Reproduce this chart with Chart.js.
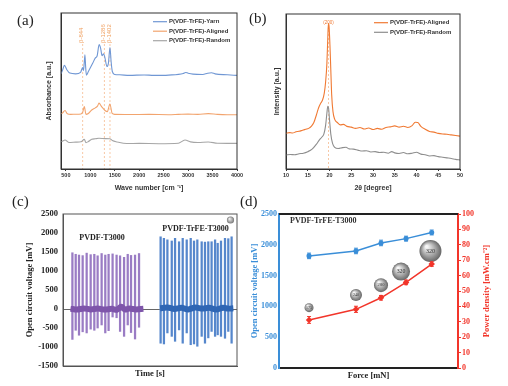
<!DOCTYPE html>
<html>
<head>
<meta charset="utf-8">
<script src="https://cdn.jsdelivr.net/npm/chart.js@4.4.1/dist/chart.umd.min.js"></script>
<style>
body { margin: 0; background: #fff; }
#fig { position: relative; width: 508px; height: 386px; overflow: hidden; background: #fff; }
canvas { position: absolute; }
.tag { position: absolute; font-family: "Liberation Serif", "Times New Roman", serif; font-size: 15px; line-height: 15px; color: #222; }
</style>
</head>
<body>
<div id="fig">
  <canvas id="chartA" width="254" height="193" style="left:0;top:0;width:254px;height:193px"></canvas>
  <canvas id="chartB" width="254" height="193" style="left:254px;top:0;width:254px;height:193px"></canvas>
  <canvas id="chartC" width="254" height="193" style="left:0;top:193px;width:254px;height:193px"></canvas>
  <canvas id="chartD" width="268" height="193" style="left:240px;top:193px;width:268px;height:193px"></canvas>
  <div class="tag" style="left:17px;top:13px">(a)</div>
  <div class="tag" style="left:249px;top:11px">(b)</div>
  <div class="tag" style="left:12px;top:194px">(c)</div>
  <div class="tag" style="left:240px;top:194px">(d)</div>
</div>
<script>
const SANS = '"Liberation Sans", Arial, sans-serif';
const SERIF = '"Liberation Serif", "Times New Roman", serif';

// ---- (a) FTIR ----
const ftirTicks = [500, 1000, 1500, 2000, 2500, 3000, 3500, 4000];
const ftirPeaks = [844, 1286, 1402];
const ftirPeakLabels = ['β-844', 'β-1286', 'β-1402'];
const yarnWave = [400, 430, 470, 520, 580, 700, 800, 842, 860, 875, 890, 905, 920, 960, 1050, 1100, 1140, 1180, 1210, 1240, 1270, 1300, 1340, 1370, 1402, 1425, 1450, 1500, 1600, 1800, 2100, 2300, 2600, 2900, 2950, 3000, 3100, 3300, 3400, 3480, 3550, 3800, 4000];
const yarnAbs = [61.0, 63.2, 66.4, 63.6, 61.5, 61.0, 61.9, 65.1, 63.2, 68.0, 73.2, 65.0, 60.2, 62.5, 67.9, 71.1, 72.6, 79.7, 77.5, 72.6, 73.9, 71.1, 65.7, 67.9, 77.9, 68.9, 62.5, 60.6, 60.4, 60.0, 60.3, 60.0, 60.2, 61.2, 61.9, 61.4, 60.8, 60.6, 61.4, 61.7, 61.0, 60.4, 60.0];
const alignedWave = [400, 427, 482, 530, 600, 700, 809, 845, 877, 911, 960, 1028, 1100, 1150, 1177, 1231, 1300, 1348, 1400, 1447, 1500, 1800, 2200, 2600, 2800, 3000, 3200, 3413, 3600, 3800, 4000];
const alignedAbs = [35.5, 35.8, 37.5, 35.4, 35.0, 35.1, 35.3, 36.5, 40.0, 35.0, 35.6, 37.8, 39.2, 40.5, 42.2, 40.0, 37.5, 36.8, 41.7, 35.6, 35.0, 34.9, 35.0, 34.8, 35.0, 35.2, 35.0, 35.5, 35.0, 34.8, 34.8];
const randomWave = [400, 427, 482, 560, 700, 809, 877, 911, 960, 1028, 1100, 1177, 1300, 1400, 1450, 1550, 1743, 2000, 2400, 2800, 2936, 3050, 3200, 3413, 3600, 3800, 4000];
const randomAbs = [17.5, 17.8, 18.6, 17.0, 17.2, 17.5, 19.0, 16.9, 17.6, 19.0, 19.4, 19.7, 19.5, 19.4, 18.2, 17.3, 16.3, 16.4, 16.2, 16.5, 18.6, 17.4, 17.0, 17.3, 16.5, 16.4, 16.4];

// ---- (b) XRD ----
const xrdPeak = 19.75;
const xrdPeakLabel = '(200)';
const alignedTheta = [10, 10.8, 11.5, 12.3, 13, 13.8, 14.5, 15.2, 15.8, 16.4, 17, 17.5, 18, 18.4, 18.8, 19.1, 19.4, 19.6, 19.75, 19.9, 20.1, 20.3, 20.5, 20.8, 21.2, 21.8, 22.5, 23.2, 24, 25, 26, 27, 28, 29, 30, 31, 32, 33, 34, 35, 36, 37, 38, 39, 39.7, 40.3, 41, 42, 43, 44, 45, 46, 47, 48, 49, 50];
const alignedInt = [23.0, 23.5, 23.2, 24.0, 24.3, 25.0, 25.6, 26.2, 27.5, 30.0, 35.0, 39.5, 42.5, 44.5, 49.0, 56.0, 68.0, 84.0, 94.0, 92.0, 80.0, 64.0, 48.0, 37.0, 32.0, 30.0, 28.5, 28.8, 27.5, 27.0, 26.2, 26.8, 25.8, 26.5, 25.5, 26.2, 25.6, 26.8, 27.2, 27.8, 27.0, 27.6, 26.8, 28.0, 30.2, 30.0, 27.5, 25.6, 24.2, 23.8, 23.0, 22.6, 22.4, 22.0, 21.6, 21.2];
const randomTheta = [10, 11, 12, 13, 14, 15, 16, 17, 17.6, 18.2, 18.7, 19.1, 19.4, 19.6, 19.8, 20.0, 20.3, 20.7, 21.2, 22, 23, 23.8, 24.5, 25.5, 26.5, 27.5, 28.5, 29.5, 30.5, 31.5, 32.5, 33.5, 34.3, 35, 36, 37, 38, 39, 40, 41, 42, 43, 44, 45, 46, 47, 48, 49, 50];
const randomInt = [9.0, 9.4, 9.2, 9.8, 10.2, 11.2, 12.8, 16.0, 18.5, 20.5, 22.5, 28.0, 36.0, 40.5, 39.0, 32.0, 22.5, 16.5, 14.0, 13.2, 13.8, 14.0, 13.0, 12.8, 12.2, 11.6, 11.8, 11.0, 11.2, 10.6, 10.8, 10.2, 11.2, 10.4, 10.0, 10.6, 9.8, 10.2, 10.8, 9.6, 9.2, 8.4, 8.6, 8.0, 7.6, 7.2, 6.8, 6.2, 5.8];

// ---- (c) open circuit voltage ----
const pvdfTime = [5.4, 7.3, 9.2, 11.3, 13.6, 15.9, 18.0, 19.9, 22.2, 24.3, 26.2, 28.5, 30.8, 32.8, 35.1, 37.2, 39.1, 41.4, 43.7];
const pvdfHigh = [1480, 1440, 1420, 1405, 1470, 1430, 1440, 1400, 1460, 1420, 1440, 1450, 1420, 1400, 1360, 1440, 1410, 1420, 1460];
const pvdfLow = [-800, -560, -690, -600, -630, -530, -560, -500, -420, -630, -570, -210, -230, -590, -720, -420, -620, -790, -480];
const pvdfBandTime = [4.3, 8, 12, 16, 20, 24, 28, 31, 33.5, 35.5, 38, 42, 46.2];
const pvdfBand = [10, -15, 15, -10, 10, -15, 5, -20, 60, -10, 10, -10, 5];
const trfeTime = [56.1, 58.0, 60.0, 62.5, 64.4, 66.7, 68.8, 71.1, 73.4, 75.3, 77.2, 79.7, 81.6, 83.5, 85.4, 87.4, 88.9, 90.8, 93.1, 95.0, 96.9];
const trfeHigh = [1900, 1860, 1820, 1790, 1860, 1770, 1860, 1820, 1860, 1790, 1820, 1770, 1760, 1770, 1770, 1820, 1730, 1790, 1860, 1850, 1900];
const trfeLow = [-900, -920, -630, -720, -850, -550, -900, -630, -940, -920, -980, -720, -900, -760, -590, -720, -680, -720, -770, -590, -900];
const trfeBandTime = [55.8, 60, 64, 68, 72, 76, 80, 84, 88, 92, 95, 97.9];
const trfeBand = [20, 40, 0, 30, -10, 40, 10, 30, -10, 30, 10, 20];

// ---- (d) force dependence ----
const forceMN = [165, 240, 280, 320, 361];
const voltageMV = [1820, 1900, 2030, 2100, 2200];
const voltageErr = [45, 45, 45, 40, 40];
const powerDensity = [31.2, 38.1, 45.6, 55.6, 67.5];
const powerErr = [2.2, 2.0, 1.5, 1.5, 1.5];
const bubbleForce = [165, 240, 280, 312, 359];
const bubbleLevel = [980, 1185, 1345, 1565, 1900];
const bubbleSize = [4.5, 6, 7, 9, 11];
const bubbleLabels = ['175', '240', '280', '320', '320'];

const pts = (xs, ys) => xs.map((x, i) => ({x: x, y: ys[i]}));

const frame = (color, width) => ({
  id: 'frame',
  afterDatasetsDraw(chart) {
    const {ctx, chartArea: a} = chart;
    ctx.save();
    ctx.strokeStyle = color;
    ctx.lineWidth = width;
    ctx.strokeRect(a.left, a.top, a.right - a.left, a.bottom - a.top);
    ctx.restore();
  }
});

const insetLegend = (dx, y0, dy) => ({
  id: 'insetLegend',
  afterDraw(chart) {
    const {ctx, chartArea: a} = chart;
    ctx.save();
    ctx.font = 'bold 6px ' + SANS;
    ctx.textBaseline = 'middle';
    ctx.fillStyle = '#333';
    chart.data.datasets.forEach((ds, i) => {
      const x = a.right - dx, y = a.top + y0 + i * dy;
      ctx.strokeStyle = ds.borderColor;
      ctx.lineWidth = 1.2;
      ctx.beginPath(); ctx.moveTo(x, y); ctx.lineTo(x + 14, y); ctx.stroke();
      ctx.fillText(ds.label, x + 16, y);
    });
    ctx.restore();
  }
});

const bubbleFill = ctx => {
  if (ctx.type !== 'data') return '#999';
  const c = ctx.chart, p = ctx.raw;
  const xs = c.scales.x, ys = c.scales[ctx.dataset.yAxisID || 'y'];
  if (!xs || !ys) return '#999';
  const x = xs.getPixelForValue(p.x), y = ys.getPixelForValue(p.y), r = p.r;
  if (![x, y, r].every(Number.isFinite)) return '#999';
  const g = c.ctx.createRadialGradient(x - r * 0.35, y - r * 0.4, r * 0.1, x, y, r);
  g.addColorStop(0, '#f6f6f6');
  g.addColorStop(0.55, '#a9a9a9');
  g.addColorStop(1, '#666');
  return g;
};

const base = {
  responsive: false,
  animation: false,
  devicePixelRatio: 1,
  plugins: {legend: {display: false}, tooltip: {enabled: false}}
};

// ===== (a) =====
new Chart(document.getElementById('chartA'), {
  type: 'line',
  data: {
    datasets: [
      {label: 'P(VDF-TrFE)-Yarn', data: pts(yarnWave, yarnAbs), borderColor: '#7097d4'},
      {label: 'P(VDF-TrFE)-Aligned', data: pts(alignedWave, alignedAbs), borderColor: '#f2a46e'},
      {label: 'P(VDF-TrFE)-Random', data: pts(randomWave, randomAbs), borderColor: '#a6a6a6'}
    ]
  },
  options: {
    ...base,
    layout: {padding: {left: 45, right: 17, top: 13, bottom: 0}},
    elements: {point: {radius: 0}, line: {borderWidth: 1.1, cubicInterpolationMode: 'monotone'}},
    scales: {
      x: {
        type: 'linear', min: 400, max: 4000,
        afterBuildTicks: s => { s.ticks = ftirTicks.map(v => ({value: v})); },
        afterFit: s => { s.height = 24; },
        ticks: {font: {family: SANS, size: 5.5, weight: 'bold'}, color: '#333', padding: 1, maxRotation: 0, callback: v => String(v)},
        grid: {drawOnChartArea: false, drawTicks: true, tickLength: 2, color: '#333'},
        border: {color: '#333'},
        title: {display: true, text: 'Wave number [cm ⁻¹]', font: {family: SANS, size: 7, weight: 'bold'}, color: '#333', padding: {top: 0, bottom: 1}}
      },
      y: {
        min: 0, max: 100,
        afterFit: s => { s.width = 16; },
        ticks: {display: false},
        grid: {display: false, drawTicks: false},
        border: {color: '#333'},
        title: {display: true, text: 'Absorbance [a.u.]', font: {family: SANS, size: 7, weight: 'bold'}, color: '#333', padding: {top: 0, bottom: 0}}
      }
    }
  },
  plugins: [frame('#333', 1), insetLegend(84, 8.7, 9.5), {
    id: 'peakLines',
    beforeDatasetsDraw(chart) {
      const {ctx, chartArea: a, scales: {x}} = chart;
      ctx.save();
      ctx.strokeStyle = '#f6bb90';
      ctx.lineWidth = 0.8;
      ctx.setLineDash([2, 2]);
      ftirPeaks.forEach(p => {
        const px = x.getPixelForValue(p);
        ctx.beginPath(); ctx.moveTo(px, a.top + 31); ctx.lineTo(px, a.bottom); ctx.stroke();
      });
      ctx.setLineDash([]);
      ctx.fillStyle = '#f0a060';
      ctx.font = '6px ' + SANS;
      ctx.textBaseline = 'middle';
      ctx.textAlign = 'left';
      ftirPeaks.forEach((p, i) => {
        const px = x.getPixelForValue(p);
        ctx.save();
        ctx.translate(px - 1, a.top + 30);
        ctx.rotate(-Math.PI / 2);
        ctx.fillText(ftirPeakLabels[i], 0, 0);
        ctx.restore();
      });
      ctx.restore();
    }
  }]
});

// ===== (b) =====
new Chart(document.getElementById('chartB'), {
  type: 'line',
  data: {
    datasets: [
      {label: 'P(VDF-TrFE)-Aligned', data: pts(alignedTheta, alignedInt), borderColor: '#f07a34'},
      {label: 'P(VDF-TrFE)-Random', data: pts(randomTheta, randomInt), borderColor: '#8e8e8e'}
    ]
  },
  options: {
    ...base,
    layout: {padding: {left: 19, right: 48, top: 14, bottom: 0}},
    elements: {point: {radius: 0}, line: {borderWidth: 1.1, cubicInterpolationMode: 'monotone'}},
    scales: {
      x: {
        type: 'linear', min: 10, max: 50,
        afterFit: s => { s.height = 24; },
        ticks: {stepSize: 5, font: {family: SANS, size: 5.5, weight: 'bold'}, color: '#333', padding: 1, maxRotation: 0, callback: v => String(v)},
        grid: {drawOnChartArea: false, drawTicks: true, tickLength: 2, color: '#333'},
        border: {color: '#333'},
        title: {display: true, text: '2θ [degree]', font: {family: SANS, size: 7, weight: 'bold'}, color: '#333', padding: {top: 0, bottom: 1}}
      },
      y: {
        min: 0, max: 100,
        afterFit: s => { s.width = 13; },
        ticks: {display: false},
        grid: {display: false, drawTicks: false},
        border: {color: '#333'},
        title: {display: true, text: 'Intensity [a.u.]', font: {family: SANS, size: 7, weight: 'bold'}, color: '#333', padding: {top: 0, bottom: 0}}
      }
    }
  },
  plugins: [frame('#333', 1), insetLegend(86, 8.7, 9.6), {
    id: 'peakLine',
    beforeDatasetsDraw(chart) {
      const {ctx, chartArea: a, scales: {x}} = chart;
      const px = x.getPixelForValue(xrdPeak);
      ctx.save();
      ctx.strokeStyle = '#f6bb90';
      ctx.lineWidth = 0.8;
      ctx.setLineDash([2, 2]);
      ctx.beginPath(); ctx.moveTo(px, a.top + 12); ctx.lineTo(px, a.bottom); ctx.stroke();
      ctx.setLineDash([]);
      ctx.fillStyle = '#f07a34';
      ctx.font = '4.5px ' + SANS;
      ctx.textAlign = 'center';
      ctx.textBaseline = 'middle';
      ctx.fillText(xrdPeakLabel, px, a.top + 8.5);
      ctx.restore();
    }
  }]
});

// ===== (c) =====
new Chart(document.getElementById('chartC'), {
  type: 'bar',
  data: {
    datasets: [
      {type: 'line', data: pts(pvdfBandTime, pvdfBand), borderColor: '#7e55aa', borderWidth: 6, pointRadius: 0, tension: 0.3},
      {type: 'line', data: pts(trfeBandTime, trfeBand), borderColor: '#2f66b4', borderWidth: 6, pointRadius: 0, tension: 0.3},
      {data: pvdfTime.map((t, i) => ({x: t, y: [pvdfLow[i], pvdfHigh[i]]})), backgroundColor: '#9a7cc4', barThickness: 1.6, grouped: false},
      {data: trfeTime.map((t, i) => ({x: t, y: [trfeLow[i], trfeHigh[i]]})), backgroundColor: '#5687cc', barThickness: 1.6, grouped: false}
    ]
  },
  options: {
    ...base,
    layout: {padding: {left: 25, right: 17, top: 21, bottom: 0}},
    scales: {
      x: {
        type: 'linear', min: 0, max: 100, offset: false,
        afterFit: s => { s.height = 20; },
        ticks: {display: false},
        grid: {display: false, drawTicks: false},
        border: {color: '#555'},
        title: {display: true, text: 'Time [s]', font: {family: SERIF, size: 8.5, weight: 'bold'}, color: '#222', padding: {top: 0, bottom: 7}}
      },
      y: {
        min: -1500, max: 2500,
        afterFit: s => { s.width = 38; },
        ticks: {stepSize: 500, font: {family: SERIF, size: 8.5, weight: 'bold'}, color: '#222', padding: 5, callback: v => String(v)},
        grid: {drawTicks: false, color: c => (c.tick && c.tick.value === 0 ? '#666' : 'rgba(0,0,0,0)')},
        border: {color: '#555'},
        title: {display: true, text: 'Open circuit voltage [mV]', font: {family: SERIF, size: 8.5, weight: 'bold'}, color: '#222', padding: {top: 0, bottom: 0}}
      }
    }
  },
  plugins: [frame('#555', 1), {
    id: 'labelsC',
    afterDraw(chart) {
      const {ctx, chartArea: a} = chart;
      ctx.save();
      ctx.font = 'bold 8px ' + SERIF;
      ctx.fillStyle = '#222';
      ctx.textAlign = 'center';
      ctx.textBaseline = 'middle';
      ctx.fillText('PVDF-T3000', a.left + 39, a.top + 24);
      ctx.fillText('PVDF-TrFE-T3000', a.left + 132.5, a.top + 15);
      const bx = a.right - 6.5, by = a.top + 6, r = 3.6;
      const g = ctx.createRadialGradient(bx - 1, by - 1.2, 0.3, bx, by, r);
      g.addColorStop(0, '#eee'); g.addColorStop(1, '#777');
      ctx.fillStyle = g;
      ctx.beginPath(); ctx.arc(bx, by, r, 0, Math.PI * 2); ctx.fill();
      ctx.restore();
    }
  }]
});

// ===== (d) =====
new Chart(document.getElementById('chartD'), {
  type: 'line',
  data: {
    datasets: [
      {data: pts(forceMN, voltageMV), errors: voltageErr, yAxisID: 'y', borderColor: '#3a8ed8', backgroundColor: '#3a8ed8', borderWidth: 1.5, pointRadius: 1.8},
      {data: pts(forceMN, powerDensity), errors: powerErr, yAxisID: 'y2', borderColor: '#f2352a', backgroundColor: '#f2352a', borderWidth: 1.5, pointRadius: 2.2, pointStyle: 'rectRot'},
      {type: 'bubble', data: bubbleForce.map((f, i) => ({x: f, y: bubbleLevel[i], r: bubbleSize[i]})), yAxisID: 'y', backgroundColor: bubbleFill, borderWidth: 0}
    ]
  },
  options: {
    ...base,
    layout: {padding: {left: 10, right: 16, top: 21, bottom: 0}},
    scales: {
      x: {
        type: 'linear', min: 117, max: 403,
        afterFit: s => { s.height = 18; },
        ticks: {display: false},
        grid: {display: false, drawTicks: false},
        border: {color: '#222', width: 2},
        title: {display: true, text: 'Force [mN]', font: {family: SERIF, size: 8.5, weight: 'bold'}, color: '#222', padding: {top: 0, bottom: 5}}
      },
      y: {
        position: 'left', min: 0, max: 2500,
        afterFit: s => { s.width = 29; },
        ticks: {stepSize: 500, font: {family: SERIF, size: 8, weight: 'bold'}, color: '#3a8ed8', padding: 2, callback: v => String(v)},
        grid: {display: false, drawTicks: false},
        border: {color: '#3a8ed8', width: 2},
        title: {display: true, text: 'Open circuit voltage [mV]', font: {family: SERIF, size: 8.5, weight: 'bold'}, color: '#3a8ed8', padding: {top: 0, bottom: 0}}
      },
      y2: {
        position: 'right', min: 0, max: 100,
        afterFit: s => { s.width = 34; },
        ticks: {stepSize: 10, font: {family: SERIF, size: 8, weight: 'bold'}, color: '#f2352a', padding: 1, callback: v => String(v)},
        grid: {drawOnChartArea: false, drawTicks: true, tickLength: 3, color: '#f2352a'},
        border: {color: '#f2352a', width: 2}
      }
    }
  },
  plugins: [{
    id: 'extrasD',
    afterDatasetsDraw(chart) {
      const {ctx, chartArea: a} = chart;
      ctx.save();
      chart.data.datasets.forEach((ds, i) => {
        if (!ds.errors) return;
        const meta = chart.getDatasetMeta(i), sc = chart.scales[ds.yAxisID];
        ctx.strokeStyle = ds.borderColor;
        ctx.lineWidth = 1;
        meta.data.forEach((pt, j) => {
          const v = ds.data[j].y, e = ds.errors[j];
          const y1 = sc.getPixelForValue(v - e), y2 = sc.getPixelForValue(v + e);
          ctx.beginPath();
          ctx.moveTo(pt.x, y1); ctx.lineTo(pt.x, y2);
          ctx.moveTo(pt.x - 2, y1); ctx.lineTo(pt.x + 2, y1);
          ctx.moveTo(pt.x - 2, y2); ctx.lineTo(pt.x + 2, y2);
          ctx.stroke();
        });
      });
      const bm = chart.getDatasetMeta(2);
      ctx.fillStyle = '#333';
      ctx.textAlign = 'center';
      ctx.textBaseline = 'middle';
      bm.data.forEach((el, j) => {
        ctx.font = Math.max(4, Math.min(6, bubbleSize[j] * 0.65)) + 'px ' + SERIF;
        ctx.fillText(bubbleLabels[j], el.x, el.y);
      });
      ctx.strokeStyle = '#222';
      ctx.lineWidth = 2;
      ctx.beginPath(); ctx.moveTo(a.left, a.top); ctx.lineTo(a.right, a.top); ctx.stroke();
      ctx.font = 'bold 8px ' + SERIF;
      ctx.textAlign = 'left';
      ctx.fillText('PVDF-TrFE-T3000', a.left + 11, a.top + 7);
      ctx.fillStyle = '#f2352a';
      ctx.font = 'bold 8.5px ' + SERIF;
      ctx.textAlign = 'center';
      ctx.translate(a.right + 29, (a.top + a.bottom) / 2);
      ctx.rotate(-Math.PI / 2);
      ctx.fillText('Power density [mW.cm⁻²]', 0, 0);
      ctx.restore();
    }
  }]
});
</script>
</body>
</html>
